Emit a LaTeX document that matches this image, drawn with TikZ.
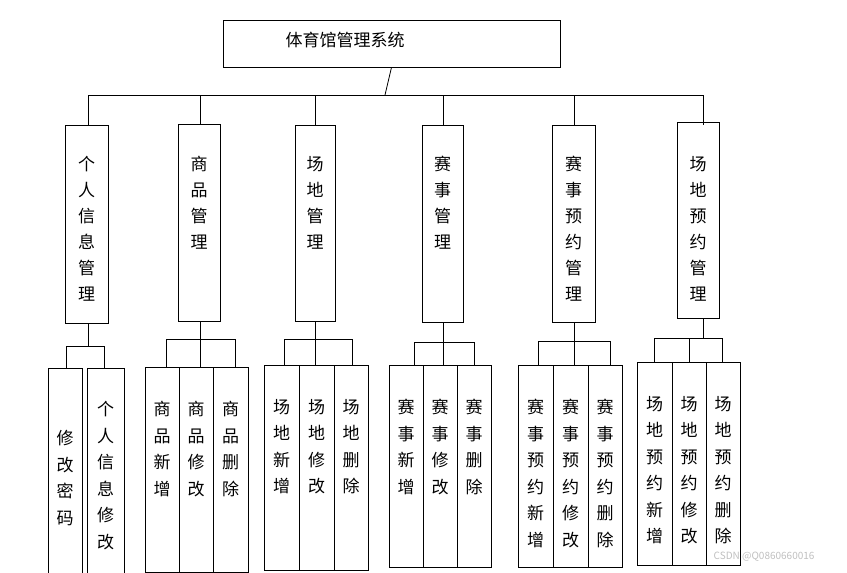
\documentclass[tikz,border=0pt]{standalone}
\usepackage{fontspec}
\setmainfont{Noto Sans CJK SC}
\begin{document}
\begin{tikzpicture}[x=1pt,y=-1pt,
 bx/.style={draw,line width=0.8pt},
 ln/.style={line width=0.8pt},
 vt/.style={anchor=north,align=center,inner sep=0pt,font=\fontsize{17}{26}\selectfont},
 vs/.style={anchor=north,align=center,inner sep=0pt,font=\fontsize{17}{26.5}\selectfont}]
\useasboundingbox (0,0) rectangle (847,573);
\node[bx,minimum width=337pt,minimum height=47pt,inner sep=0pt] (root) at (391.5,43.5) {};
\node[font=\fontsize{17}{20}\selectfont] (rt) at (345,40) {体育馆管理系统};
\coordinate (bus) at (385,95);
\draw[ln] (root.south) -- (bus);
\draw[ln] (88,95) -- (703,95);
% level 2
\foreach \n/\xa/\ya/\xb/\yb/\t in {
 a/65/125/108/323/{个\\人\\信\\息\\管\\理},
 b/178/124/220/321/{商\\品\\管\\理},
 c/295/125/335/321/{场\\地\\管\\理},
 d/422/125/463/322/{赛\\事\\管\\理},
 e/552/125/595/322/{赛\\事\\预\\约\\管\\理},
 f/677/122/719/318/{场\\地\\预\\约\\管\\理}}{
 \path (\xa,\ya) coordinate (\n tl) (\xb,\yb) coordinate (\n br);
 \draw[bx] (\n tl) rectangle (\n br);
 \node[vt] (\n t) at ({(\xa+\xb)/2},156) {\t};
}
\foreach \n/\x in {a/88,b/200,c/315,d/443,e/574,f/703}{
 \draw[ln] (\x,95) -- (\x,\ifx\n f 122\else 125\fi);
}
% level 3 buses
\foreach \n/\x/\yt/\yb/\l/\r in {a/88/323/346/66/104, b/200/321/339/166/235, c/315/321/339/284/352,
 d/443/322/342/414/474, e/574/322/341/538/610, f/703/318/338/654/722}{
 \draw[ln] (\x,\yt) -- (\x,\yb);
 \draw[ln] (\l,\yb) -- (\r,\yb);
}
% level 3 boxes
\foreach \n/\xa/\xb/\ya/\yb/\yc/\ty/\t in {
 a1/48/82/368/573/346/430/{修\\改\\密\\码},
 a2/87/124/368/573/346/401/{个\\人\\信\\息\\修\\改},
 b1/145/179/367/572/339/401/{商\\品\\新\\增},
 b2/179/213/367/572/339/401/{商\\品\\修\\改},
 b3/213/248/367/572/339/401/{商\\品\\删\\除},
 c1/264/299/365/570/339/399/{场\\地\\新\\增},
 c2/299/334/365/570/339/399/{场\\地\\修\\改},
 c3/334/368/365/570/339/399/{场\\地\\删\\除},
 d1/389/423/365/567/342/399/{赛\\事\\新\\增},
 d2/423/457/365/567/342/399/{赛\\事\\修\\改},
 d3/457/491/365/567/342/399/{赛\\事\\删\\除},
 e1/518/553/365/567/341/399/{赛\\事\\预\\约\\新\\增},
 e2/553/588/365/567/341/399/{赛\\事\\预\\约\\修\\改},
 e3/588/622/365/567/341/399/{赛\\事\\预\\约\\删\\除},
 f1/637/672/362/565/338/396/{场\\地\\预\\约\\新\\增},
 f2/672/706/362/565/338/396/{场\\地\\预\\约\\修\\改},
 f3/706/740/362/565/338/396/{场\\地\\预\\约\\删\\除}}{
 \draw[bx] (\xa,\ya) rectangle (\xb,\yb);
 \node[vs] (\n) at ({(\xa+\xb)/2},\ty) {\t};
}
\foreach \x/\ya/\yb in {66/346/368,104/346/368,166/339/367,200/339/367,235/339/367,
 284/339/365,315/339/365,352/339/365,414/342/365,443/342/365,474/342/365,
 538/341/365,574/341/365,610/341/365,654/338/362,689/338/362,722/338/362}{
 \draw[ln] (\x,\ya) -- (\x,\yb);
}
\node[text=gray!50,font=\fontsize{10}{12}\selectfont,anchor=east] (wm) at (818,557) {CSDN @Q0860660016};
\end{tikzpicture}
\end{document}
